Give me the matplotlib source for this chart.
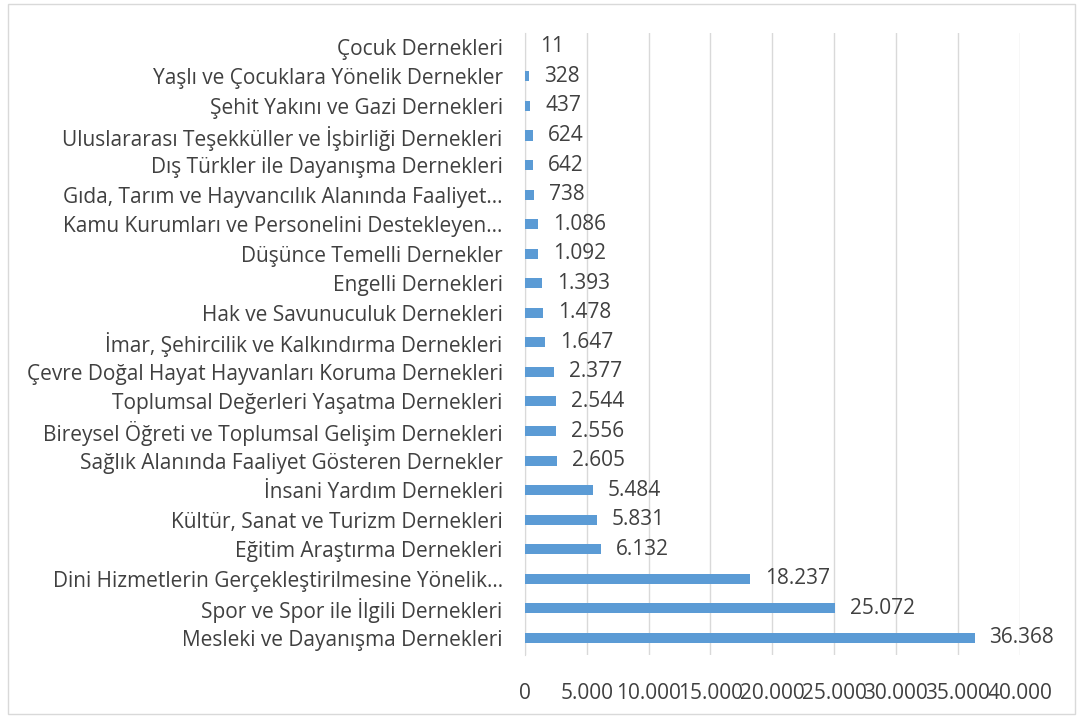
import matplotlib.pyplot as plt
from matplotlib.patches import Rectangle

categories = [
    "Mesleki ve Dayanışma Dernekleri",
    "Spor ve Spor ile İlgili Dernekleri",
    "Dini Hizmetlerin Gerçekleştirilmesine Yönelik…",
    "Eğitim Araştırma Dernekleri",
    "Kültür, Sanat ve Turizm Dernekleri",
    "İnsani Yardım Dernekleri",
    "Sağlık Alanında Faaliyet Gösteren Dernekler",
    "Bireysel Öğreti ve Toplumsal Gelişim Dernekleri",
    "Toplumsal Değerleri Yaşatma Dernekleri",
    "Çevre Doğal Hayat Hayvanları Koruma Dernekleri",
    "İmar, Şehircilik ve Kalkındırma Dernekleri",
    "Hak ve Savunuculuk Dernekleri",
    "Engelli Dernekleri",
    "Düşünce Temelli Dernekler",
    "Kamu Kurumları ve Personelini Destekleyen…",
    "Gıda, Tarım ve Hayvancılık Alanında Faaliyet…",
    "Dış Türkler ile Dayanışma Dernekleri",
    "Uluslararası Teşekküller ve İşbirliği Dernekleri",
    "Şehit Yakını ve Gazi Dernekleri",
    "Yaşlı ve Çocuklara Yönelik Dernekler",
    "Çocuk Dernekleri",
]
values = [36368, 25072, 18237, 6132, 5831, 5484, 2605, 2556, 2544, 2377,
          1647, 1478, 1393, 1092, 1086, 738, 642, 624, 437, 328, 11]
xticks = [0, 5000, 10000, 15000, 20000, 25000, 30000, 35000, 40000]


def fmt(v):
    return f"{v:,}".replace(",", ".")


plt.rcParams['font.family'] = ['Open Sans', 'DejaVu Sans']
text_color = '#404040'
fs = 15

fig = plt.figure(figsize=(10.8, 7.17), dpi=100)
fig.patches.append(Rectangle((0.007, 0.004), 0.988, 0.99, transform=fig.transFigure,
                             fill=False, edgecolor='#d9d9d9', linewidth=1))
ax = fig.add_axes([0.486, 0.0865, 0.458, 0.8675])

y = range(len(categories))
ax.barh(y, values, height=0.34, color='#5b9bd5', zorder=3)
for i, v in enumerate(values):
    ax.text(v + 1200, i, fmt(v), va='center', ha='left', fontsize=fs, color=text_color)

ax.set_xlim(0, 40000)
ax.set_ylim(-0.58, 20.47)
ax.set_yticks(list(y))
ax.set_yticklabels(categories, fontsize=fs, color=text_color)
ax.set_xticks(xticks)
ax.set_xticklabels([fmt(t) for t in xticks], fontsize=fs, color=text_color)
ax.tick_params(axis='both', length=0)
ax.tick_params(axis='y', pad=16)
ax.tick_params(axis='x', pad=20)
ax.grid(axis='x', color='#d9d9d9', linewidth=1, zorder=0)
for s in ['top', 'right', 'bottom']:
    ax.spines[s].set_visible(False)
ax.spines['left'].set_color('#d9d9d9')

fig.savefig('out.png', dpi=100)
